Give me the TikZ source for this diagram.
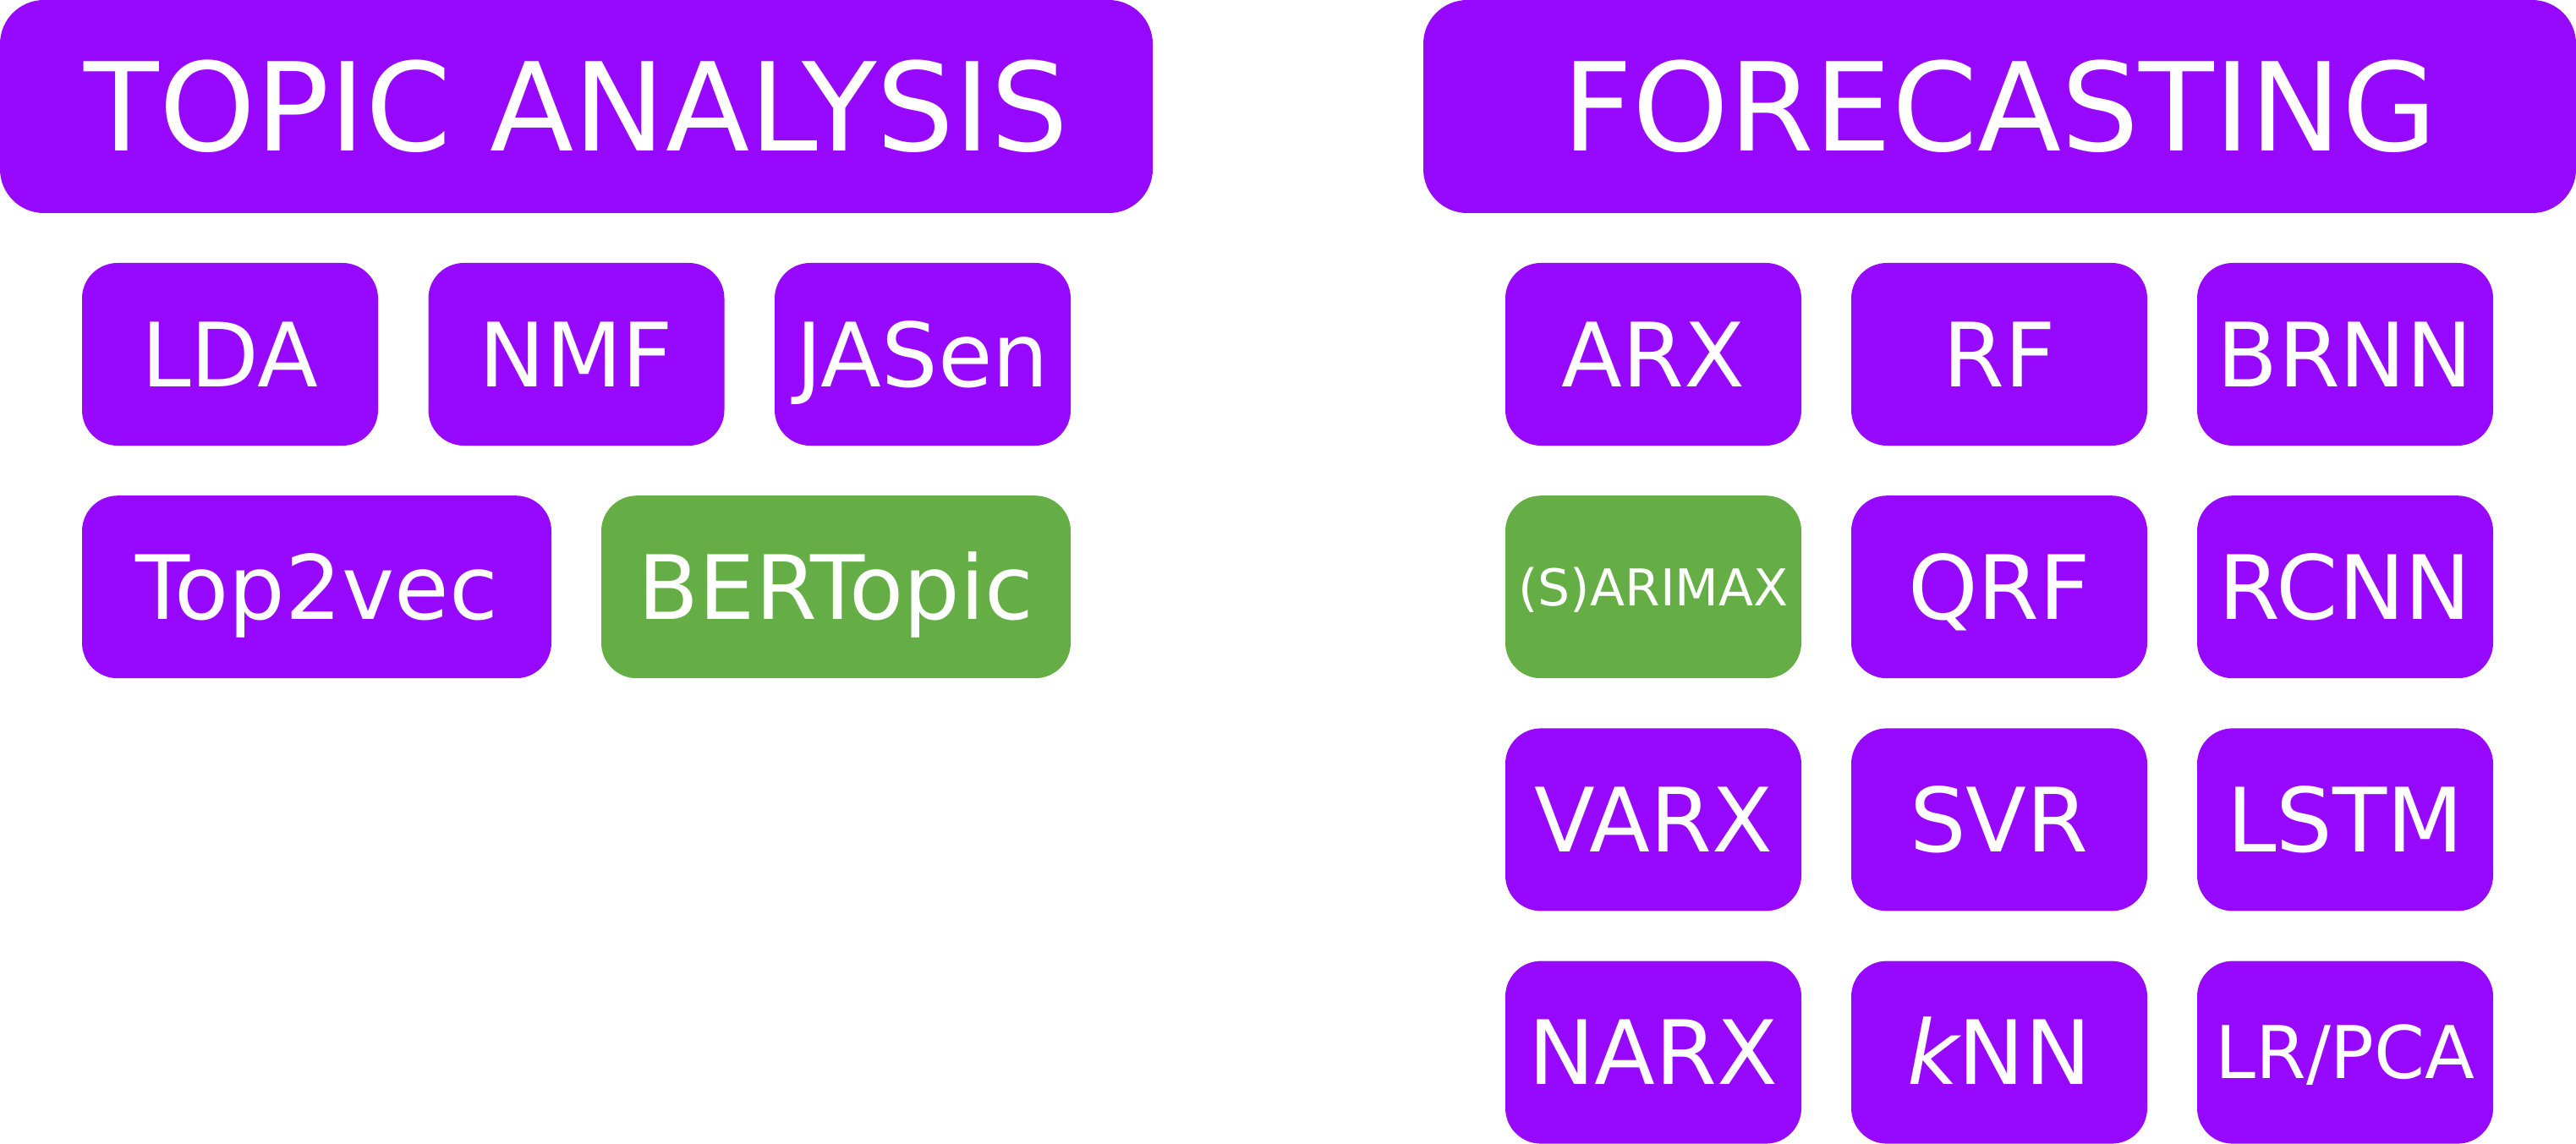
\documentclass[tikz,border=0pt]{standalone}
\usepackage{fontspec}
\setmainfont{DejaVu Sans}
\usepackage{tikz}
\usetikzlibrary{positioning}
\definecolor{methodpurple}{HTML}{9609FE}
\definecolor{methodgreen}{HTML}{64AE45}
\tikzset{
  % Section headers
  header/.style={
    rectangle, rounded corners=26pt, minimum width=681.5pt, minimum height=126pt,
    fill=#1, text=white, font=\fontsize{72.5}{80}\selectfont,
    inner sep=0pt, outer sep=0pt, text height=52.9pt, text depth=0pt,
  },
  header/.default={methodpurple},
  % Method tiles
  method/.style={
    rectangle, rounded corners=21pt, minimum width=175pt, minimum height=108pt,
    fill=#1, text=white, font=\fontsize{52.5}{60}\selectfont,
    inner sep=0pt, outer sep=0pt, text height=38.3pt, text depth=0pt,
  },
  method/.default={methodpurple},
  % Wide tiles
  widemethod/.style={method=#1, minimum width=277.5pt},
  widemethod/.default={methodpurple},
  % Smaller labels
  smalllabel/.style={font=\fontsize{30}{36}\selectfont, text height=21.9pt},
  midlabel/.style={font=\fontsize{43}{50}\selectfont, text height=31.3pt},
}

\begin{document}
\begin{tikzpicture}[node distance=29.6pt and 29.5pt]
  \useasboundingbox (0,0) rectangle (1523pt,-676.5pt);

  % Topic analysis
  \node[header, anchor=north west] (topic) at (0,0) {TOPIC ANALYSIS};
  \node[method, below right=29.5pt and 48.5pt of topic.south west] (lda) {LDA};
  \node[method, right=29.75pt of lda] (nmf) {NMF};
  \node[method, right=29.75pt of nmf] (jasen) {JASen};
  \node[widemethod, below right=29.6pt and 0pt of lda.south west] (top2vec) {Top2vec};
  \node[widemethod=methodgreen, right=29.5pt of top2vec] (bertopic) {BERTopic};

  % Forecasting
  \node[header, anchor=north east] (forecast) at (1523pt,0) {FORECASTING};
  \node[method, below right=29.5pt and 48.5pt of forecast.south west] (arx) {ARX};
  \node[method, right=of arx] (rf) {RF};
  \node[method, right=of rf] (brnn) {BRNN};

  \node[method=methodgreen, smalllabel, below=of arx] (sarimax) {(S)ARIMAX};
  \node[method, below=of rf] (qrf) {QRF};
  \node[method, below=of brnn] (rcnn) {RCNN};

  \node[method, below=of sarimax] (varx) {VARX};
  \node[method, below=of qrf] (svr) {SVR};
  \node[method, below=of rcnn] (lstm) {LSTM};

  \node[method, below=of varx] (narx) {NARX};
  \node[method, below=of svr] (knn) {{\itshape k}NN};
  \node[method, midlabel, below=of lstm] (lrpca) {LR/PCA};

\end{tikzpicture}
\end{document}
